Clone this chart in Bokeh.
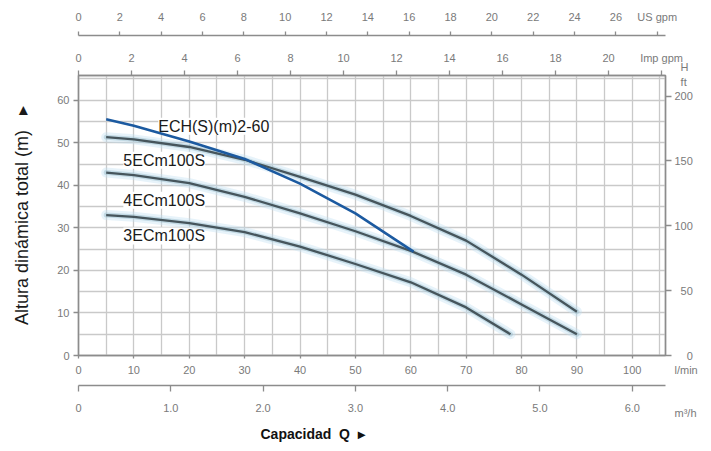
from bokeh.plotting import figure
from bokeh.models import (Range1d, LinearAxis, FixedTicker, SingleIntervalTicker,
                          Grid, Label, Title)
from bokeh.embed import file_html
from bokeh.resources import INLINE

# ---------------- data ----------------
# flow Q in l/min, head H in m
q_5ec = [5, 10, 20, 30, 40, 50, 60, 70, 80, 90]
h_5ec = [51.3, 50.8, 49.0, 46.0, 42.0, 37.8, 32.8, 27.0, 19.0, 10.3]
q_4ec = [5, 10, 20, 30, 40, 50, 60, 70, 80, 90]
h_4ec = [43.0, 42.4, 40.5, 37.3, 33.4, 29.2, 24.6, 19.0, 12.0, 5.0]
q_3ec = [5, 10, 20, 30, 40, 50, 60, 70, 78]
h_3ec = [33.0, 32.6, 31.1, 29.0, 25.6, 21.5, 17.2, 11.3, 5.0]
q_ech = [5, 10, 20, 30, 40, 50, 60.5]
h_ech = [55.5, 54.0, 50.3, 46.2, 40.4, 33.4, 24.4]

series_names = ["ECH(S)(m)2-60", "5ECm100S", "4ECm100S", "3ECm100S"]

lmin_ticks = [0, 10, 20, 30, 40, 50, 60, 70, 80, 90, 100]
m3h_ticks = [0, 1, 2, 3, 4, 5, 6]
m3h_labels = ["0", "1.0", "2.0", "3.0", "4.0", "5.0", "6.0"]
usgpm_ticks = [0, 2, 4, 6, 8, 10, 12, 14, 16, 18, 20, 22, 24, 26, 28]
usgpm_labels = ["0", "2", "4", "6", "8", "10", "12", "14", "16", "18", "20",
                "22", "24", "26", "US gpm"]
impgpm_ticks = [0, 2, 4, 6, 8, 10, 12, 14, 16, 18, 20, 22]
impgpm_labels = ["0", "2", "4", "6", "8", "10", "12", "14", "16", "18", "20", "Imp gpm"]
head_m_ticks = [0, 10, 20, 30, 40, 50, 60]
head_ft_ticks = [0, 50, 100, 150, 200]
head_ft_labels = ["0", "50", "100", "150", "200"]
unit_ft = ["H", "ft"]
unit_flow = ["l/min", "m\u00b3/h"]

NB = "\u00a0"
x_label = "Capacidad" + NB * 2 + "Q" + NB * 2 + "\u25b8"
y_label = "Altura din\u00e1mica total (m)" + NB * 3 + "\u25b8"

# ---------------- layout / style ----------------
X_END = 106.0
Y_END = 65.8
FT_END = Y_END * 3.2808
M3H_END = X_END * 0.06
US_END = 28.4
IMP_END = 22.15

FONT = "Liberation Sans"
TICK_COL = "#7a7a7a"
AX_COL = "#8c8c8c"
FS = "\u2007"  # figure space (digit width) used to right-align right-axis labels

p = figure(width=703, height=451, output_backend="svg", toolbar_location=None,
           x_range=Range1d(0, X_END), y_range=Range1d(0, Y_END),
           x_axis_location=None, y_axis_location=None,
           min_border_left=78, min_border_right=38, min_border_top=75,
           min_border_bottom=95, background_fill_color="white",
           border_fill_color="white")
p.outline_line_color = AX_COL
p.outline_line_width = 1.5

p.extra_y_ranges = {"ft": Range1d(0, FT_END)}
p.extra_x_ranges = {"m3h": Range1d(0, M3H_END), "us": Range1d(0, US_END),
                    "imp": Range1d(0, IMP_END)}

# grids
for dim in (0, 1):
    g = Grid(dimension=dim, ticker=SingleIntervalTicker(interval=5),
             grid_line_color="#c9c9c9", grid_line_width=1.3)
    p.add_layout(g, "center")


def style_axis(ax, size="11px"):
    ax.axis_line_color = AX_COL
    ax.axis_line_width = 1.3
    ax.major_tick_line_color = AX_COL
    ax.major_tick_line_width = 1.3
    ax.minor_tick_line_color = None
    ax.major_tick_in = 0
    ax.major_label_text_color = TICK_COL
    ax.major_label_text_font = FONT
    ax.major_label_text_font_size = size


# bottom: l/min
ax_l = LinearAxis(ticker=FixedTicker(ticks=lmin_ticks))
style_axis(ax_l)
ax_l.major_tick_out = 3
ax_l.major_label_standoff = 7
ax_l.axis_label = " "
ax_l.axis_label_text_font_size = "5px"
ax_l.axis_label_standoff = 0
p.add_layout(ax_l, "below")

# bottom: m3/h
ax_m = LinearAxis(x_range_name="m3h", ticker=FixedTicker(ticks=m3h_ticks),
                  major_label_overrides=dict(zip(m3h_ticks, m3h_labels)))
style_axis(ax_m)
ax_m.major_tick_out = 6
ax_m.major_label_standoff = 12
p.add_layout(ax_m, "below")

p.add_layout(Title(text=x_label, align="left", offset=182, standoff=19,
                   text_font=FONT, text_font_size="14px", text_font_style="bold",
                   text_color="#111111"), "below")

# top: Imp gpm (closest to frame)
ax_i = LinearAxis(x_range_name="imp", ticker=FixedTicker(ticks=impgpm_ticks),
                  major_label_overrides=dict(zip(impgpm_ticks, impgpm_labels)))
style_axis(ax_i)
ax_i.major_tick_out = 5
ax_i.major_label_standoff = 7
ax_i.axis_label = " "
ax_i.axis_label_text_font_size = "9px"
ax_i.axis_label_standoff = 0
p.add_layout(ax_i, "above")

# top: US gpm
ax_u = LinearAxis(x_range_name="us", ticker=FixedTicker(ticks=usgpm_ticks),
                  major_label_overrides=dict(zip(usgpm_ticks, usgpm_labels)))
style_axis(ax_u)
ax_u.major_tick_out = 4
ax_u.major_label_standoff = 9
p.add_layout(ax_u, "above")

# left: m
ax_y = LinearAxis(ticker=FixedTicker(ticks=head_m_ticks))
style_axis(ax_y)
ax_y.major_tick_out = 5
ax_y.major_label_standoff = 4
ax_y.axis_label = y_label
ax_y.axis_label_text_font = FONT
ax_y.axis_label_text_font_size = "18px"
ax_y.axis_label_text_font_style = "normal"
ax_y.axis_label_text_color = "#1a1a1a"
ax_y.axis_label_standoff = 22
p.add_layout(ax_y, "left")

# right: ft  (unit texts stacked into the end labels, since the frame clips annotations)
ft_over = {t: FS * (3 - len(s)) + s for t, s in zip(head_ft_ticks, head_ft_labels)}
top_t = head_ft_ticks[-1]
ft_over[top_t] = "\n".join([FS + unit_ft[0], FS + unit_ft[1], ft_over[top_t], FS, FS])
bot_t = head_ft_ticks[0]
ft_over[bot_t] = "\n".join([FS, FS, FS, FS, ft_over[bot_t], unit_flow[0], FS, FS,
                            unit_flow[1]])
ax_f = LinearAxis(y_range_name="ft", ticker=FixedTicker(ticks=head_ft_ticks),
                  major_label_overrides=ft_over)
style_axis(ax_f)
ax_f.major_tick_out = 6
ax_f.major_label_standoff = 3
p.add_layout(ax_f, "right")

# curves with a soft halo
gray_series = [(q_5ec, h_5ec), (q_4ec, h_4ec), (q_3ec, h_3ec)]
for qs, hs in gray_series:
    p.line(qs, hs, line_color="#c3e2f2", line_width=10, line_alpha=0.4,
           line_cap="round", line_join="round")
    p.line(qs, hs, line_color="#97bccd", line_width=5, line_alpha=0.45,
           line_cap="round", line_join="round")
    p.line(qs, hs, line_color="#46555c", line_width=2.3, line_join="round")

p.line(q_ech, h_ech, line_color="#1c5aa0", line_width=2.6, line_join="round")

# curve labels
label_pos = [(14.4, 53.9), (8.1, 45.9), (8.1, 36.5), (8.1, 28.1)]
for name, (lx, ly) in zip(series_names, label_pos):
    p.add_layout(Label(x=lx, y=ly, text=name, text_font=FONT, text_font_size="16px",
                       text_color="#1a1a1a", text_baseline="middle",
                       background_fill_color="white", background_fill_alpha=1.0,
                       level="underlay"))

open("out.html", "w").write(file_html(p, INLINE))
